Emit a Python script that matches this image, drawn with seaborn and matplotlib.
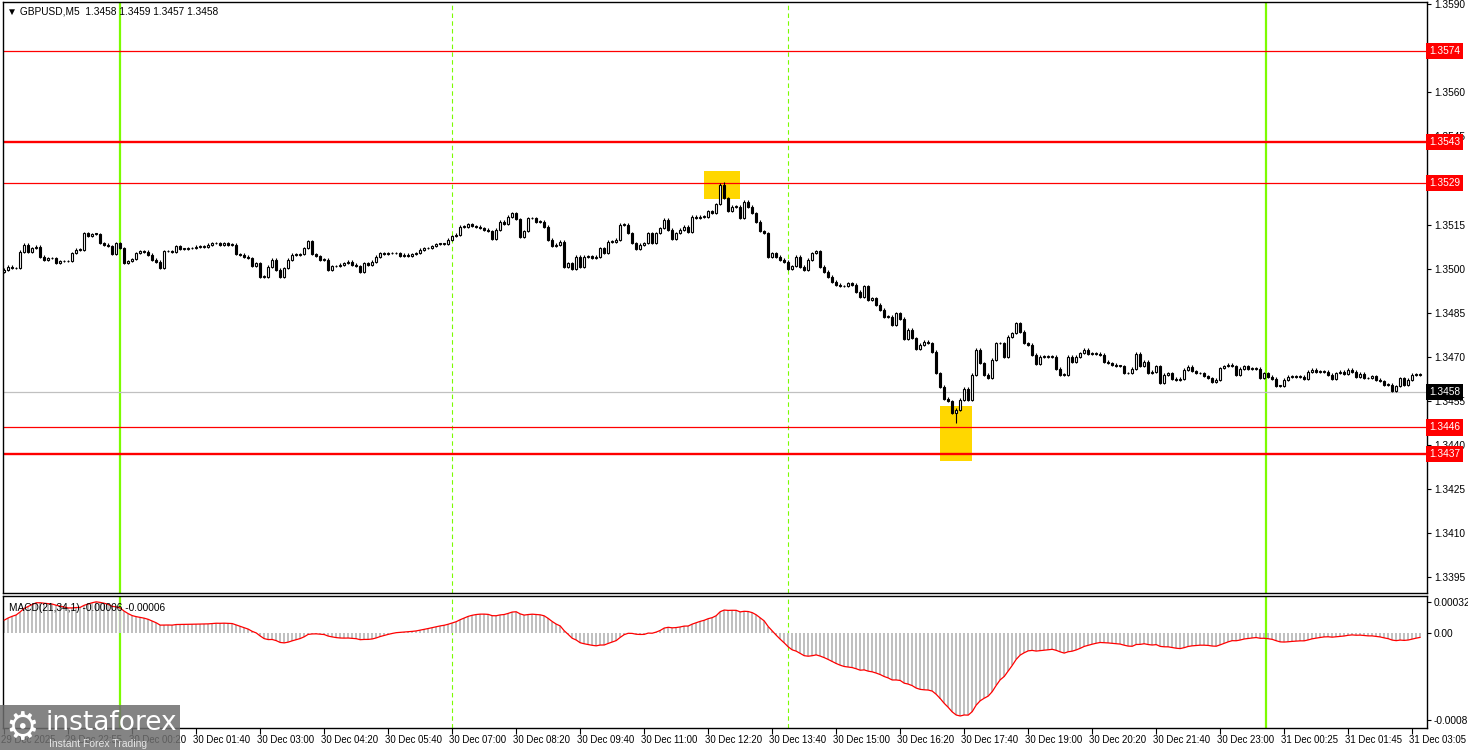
import numpy as np
import matplotlib
matplotlib.use("Agg")
import matplotlib.pyplot as plt
import matplotlib.transforms as mtransforms
import seaborn as sns

# closes of the 5-minute bars (left to right)
closes = [
    1.34997, 1.35007, 1.35003, 1.35003, 1.35058, 1.35082, 1.35058, 1.35071, 1.35075, 1.35041,
    1.35031, 1.35037, 1.35037, 1.35020, 1.35027, 1.35027, 1.35027, 1.35054, 1.35065, 1.35065,
    1.35122, 1.35112, 1.35119, 1.35119, 1.35088, 1.35082, 1.35078, 1.35051, 1.35088, 1.35071,
    1.35020, 1.35027, 1.35034, 1.35054, 1.35061, 1.35058, 1.35048, 1.35031, 1.35024, 1.35003,
    1.35061, 1.35061, 1.35058, 1.35078, 1.35068, 1.35068, 1.35071, 1.35071, 1.35075, 1.35075,
    1.35075, 1.35082, 1.35088, 1.35088, 1.35082, 1.35088, 1.35082, 1.35082, 1.35051, 1.35048,
    1.35041, 1.35037, 1.35010, 1.35020, 1.34973, 1.34973, 1.35007, 1.35031, 1.34997, 1.34973,
    1.35003, 1.35031, 1.35048, 1.35048, 1.35051, 1.35071, 1.35095, 1.35051, 1.35044, 1.35031,
    1.35031, 1.34997, 1.35010, 1.35010, 1.35014, 1.35020, 1.35024, 1.35014, 1.35010, 1.34990,
    1.35020, 1.35014, 1.35024, 1.35041, 1.35054, 1.35051, 1.35054, 1.35054, 1.35054, 1.35044,
    1.35048, 1.35044, 1.35051, 1.35054, 1.35065, 1.35071, 1.35071, 1.35078, 1.35085, 1.35085,
    1.35085, 1.35099, 1.35112, 1.35116, 1.35143, 1.35143, 1.35153, 1.35146, 1.35143, 1.35139,
    1.35133, 1.35129, 1.35102, 1.35133, 1.35160, 1.35153, 1.35177, 1.35190, 1.35170, 1.35109,
    1.35129, 1.35173, 1.35173, 1.35160, 1.35160, 1.35143, 1.35099, 1.35078, 1.35082, 1.35092,
    1.35007, 1.35020, 1.35000, 1.35041, 1.35007, 1.35041, 1.35044, 1.35037, 1.35041, 1.35071,
    1.35054, 1.35092, 1.35092, 1.35099, 1.35150, 1.35150, 1.35122, 1.35088, 1.35068, 1.35082,
    1.35088, 1.35122, 1.35088, 1.35122, 1.35139, 1.35167, 1.35133, 1.35102, 1.35122, 1.35133,
    1.35143, 1.35126, 1.35177, 1.35173, 1.35177, 1.35177, 1.35197, 1.35190, 1.35221, 1.35286,
    1.35241, 1.35197, 1.35211, 1.35211, 1.35173, 1.35228, 1.35211, 1.35190, 1.35160, 1.35129,
    1.35122, 1.35041, 1.35054, 1.35041, 1.35031, 1.35024, 1.35000, 1.35010, 1.35041, 1.35007,
    1.34997, 1.35031, 1.35054, 1.35061, 1.35007, 1.34990, 1.34973, 1.34956, 1.34946, 1.34942,
    1.34942, 1.34952, 1.34946, 1.34922, 1.34905, 1.34942, 1.34895, 1.34901, 1.34878, 1.34861,
    1.34837, 1.34837, 1.34810, 1.34850, 1.34830, 1.34762, 1.34793, 1.34765, 1.34728, 1.34742,
    1.34752, 1.34748, 1.34718, 1.34646, 1.34599, 1.34558, 1.34551, 1.34510, 1.34521, 1.34555,
    1.34592, 1.34555, 1.34640, 1.34725, 1.34680, 1.34640, 1.34629, 1.34691, 1.34748, 1.34748,
    1.34701, 1.34769, 1.34782, 1.34816, 1.34786, 1.34748, 1.34742, 1.34708, 1.34677, 1.34701,
    1.34701, 1.34701, 1.34701, 1.34660, 1.34640, 1.34640, 1.34701, 1.34684, 1.34701, 1.34714,
    1.34725, 1.34711, 1.34711, 1.34711, 1.34708, 1.34684, 1.34680, 1.34674, 1.34670, 1.34670,
    1.34646, 1.34646, 1.34660, 1.34711, 1.34670, 1.34684, 1.34646, 1.34650, 1.34670, 1.34612,
    1.34640, 1.34646, 1.34626, 1.34623, 1.34626, 1.34657, 1.34667, 1.34653, 1.34646, 1.34646,
    1.34636, 1.34629, 1.34616, 1.34623, 1.34663, 1.34670, 1.34674, 1.34670, 1.34640, 1.34660,
    1.34670, 1.34660, 1.34660, 1.34660, 1.34629, 1.34646, 1.34633, 1.34626, 1.34602, 1.34602,
    1.34623, 1.34633, 1.34636, 1.34633, 1.34633, 1.34626, 1.34650, 1.34657, 1.34650, 1.34650,
    1.34650, 1.34640, 1.34626, 1.34646, 1.34650, 1.34643, 1.34657, 1.34650, 1.34633, 1.34643,
    1.34629, 1.34629, 1.34636, 1.34623, 1.34619, 1.34606, 1.34606, 1.34585, 1.34602, 1.34629,
    1.34606, 1.34623, 1.34640, 1.34640, 1.34640,
]
first_open = 1.34990
wick_extremes = {179: ("high", 1.35293), 180: ("high", 1.35295), 238: ("low", 1.34476)}

# EMA state just before the first visible bar (MACD 21,34)
ema_fast_start = 1.34920
ema_slow_start = 1.34910

tick_bars = list(range(0, 353, 16))
tick_texts = ["29 Dec 2025", "29 Dec 22:55", "30 Dec 00:20", "30 Dec 01:40", "30 Dec 03:00",
              "30 Dec 04:20", "30 Dec 05:40", "30 Dec 07:00", "30 Dec 08:20", "30 Dec 09:40",
              "30 Dec 11:00", "30 Dec 12:20", "30 Dec 13:40", "30 Dec 15:00", "30 Dec 16:20",
              "30 Dec 17:40", "30 Dec 19:00", "30 Dec 20:20", "30 Dec 21:40", "30 Dec 23:00",
              "31 Dec 00:25", "31 Dec 01:45", "31 Dec 03:05"]

levels_thin = [1.3574, 1.3529, 1.3446]
levels_thick = [1.3543, 1.3437]
bid = 1.3458
day_lines = [29, 315.5]
session_lines = [112, 196]
boxes = [(174.9, 183.9, 1.35237, 1.35332), (233.9, 241.9, 1.34346, 1.34533)]
title = "\u25bc GBPUSD,M5  1.3458 1.3459 1.3457 1.3458"
macd_title = "MACD(21,34,1) -0.00006 -0.00006"
macd_scale_ticks = [0.000284, 0.0, -0.000788]
macd_scale_texts = ["0.00032", "0.00", "-0.0008"]

# ---------------------------------------------------------------
sns.set_style("white")
plt.rcParams["font.family"] = ["Liberation Sans", "DejaVu Sans"]

n = len(closes)
bars = np.arange(n)
c = np.array(closes)
o = np.r_[first_open, c[:-1]]
wick = 0.00004
hi = np.maximum(o, c) + wick
lo = np.minimum(o, c) - wick
for k, (side, v) in wick_extremes.items():
    if side == "high":
        hi[k] = v
    else:
        lo[k] = v

af, aslow = 2 / 22, 2 / 35
f, s = ema_fast_start, ema_slow_start
macd = []
for v in c:
    f += af * (v - f)
    s += aslow * (v - s)
    macd.append(f - s)
macd = np.array(macd)

W, H = 1468, 750
fig = plt.figure(figsize=(W / 100, H / 100), dpi=100)
ax = fig.add_axes([3 / W, 1 - 593 / H, 1424 / W, 591 / H])
ax2 = fig.add_axes([3 / W, 1 - 728 / H, 1424 / W, 132 / H])

xmin = -0.3
xmax = xmin + 1424 / 4
for a in (ax, ax2):
    a.set_xlim(xmin, xmax)
    for sp in a.spines.values():
        sp.set_color("black")
        sp.set_linewidth(1)
        sp.set_visible(True)
    for x in day_lines:
        a.axvline(x, color="#7CFC00", lw=1.6, zorder=1)
    for x in session_lines:
        a.axvline(x, color="#7CFC00", lw=0.8, ls=(0, (4, 3)), zorder=1)

ax.set_ylim(1.33897, 1.35907)

# highlight boxes
for x0, x1, y0, y1 in boxes:
    ax.fill_between([x0, x1], y0, y1, color="#FFD700", lw=0, zorder=2)

for y in levels_thin:
    ax.axhline(y, color="red", lw=0.9, zorder=2)
for y in levels_thick:
    ax.axhline(y, color="red", lw=1.7, zorder=2)
ax.axhline(bid, color="#c0c0c0", lw=0.9, zorder=2)

# candles
up = c >= o
ax.vlines(bars, lo, hi, color="black", lw=0.8, zorder=3)
body_h = np.maximum(np.abs(c - o), 0.000008)
ax.bar(bars[up], body_h[up], bottom=np.minimum(o, c)[up], width=0.62,
       color="white", edgecolor="black", linewidth=0.8, zorder=4)
ax.bar(bars[~up], body_h[~up], bottom=np.minimum(o, c)[~up], width=0.62,
       color="black", edgecolor="black", linewidth=0.8, zorder=4)

# right price scale (labels under the red boxes are hidden, as in the terminal)
ax.yaxis.tick_right()
yt = np.round(np.arange(1.3395, 1.35905, 0.0015), 4)
ax.set_yticks(yt)
ax.set_yticklabels(["" if v in (1.3575, 1.3530) else f"{v:.4f}" for v in yt])
ax.tick_params(axis="y", right=True, direction="out", length=3, width=0.8,
               labelsize=7.3, pad=2, colors="black")
ax.set_xticks([])

ytrans = mtransforms.blended_transform_factory(ax.transAxes, ax.transData)
for y in levels_thin + levels_thick:
    ax.text(1.0015, y, f"{y:.4f}", transform=ytrans, ha="left", va="center",
            fontsize=7.3, color="white", zorder=10, clip_on=False,
            bbox=dict(facecolor="red", edgecolor="none", pad=2.2))
ax.text(1.0015, bid, f"{bid:.4f}", transform=ytrans, ha="left", va="center",
        fontsize=7.3, color="white", zorder=10, clip_on=False,
        bbox=dict(facecolor="black", edgecolor="none", pad=2.2))

ax.text(0.0025, 0.993, title, transform=ax.transAxes,
        ha="left", va="top", fontsize=7.3, color="black")

# MACD panel
ax2.bar(bars, macd, width=0.5, color="#c0c0c0", linewidth=0, zorder=2)
sns.lineplot(x=bars, y=macd, ax=ax2, color="red", lw=0.9, zorder=3)
ax2.set_ylim(-0.00086, 0.00034)
ax2.yaxis.tick_right()
ax2.set_yticks(macd_scale_ticks)
ax2.set_yticklabels(macd_scale_texts)
ax2.tick_params(axis="y", right=True, direction="out", length=3, width=0.8,
                labelsize=7.3, pad=2, colors="black")
ax2.set_ylabel("")
ax2.text(0.004, 0.95, macd_title, transform=ax2.transAxes,
         ha="left", va="top", fontsize=7.3, color="black")

ax2.set_xticks(tick_bars)
ax2.set_xticklabels(tick_texts)
ax2.tick_params(axis="x", bottom=True, direction="out", length=4, width=0.8,
                labelsize=6.9, pad=1, colors="black")
shift = mtransforms.ScaledTranslation(-3 / 100, 0, fig.dpi_scale_trans)
for lab in ax2.get_xticklabels():
    lab.set_ha("left")
    lab.set_transform(lab.get_transform() + shift)

# watermark
fig.patches.append(plt.Rectangle((0, 0), 180 / W, 45 / H, transform=fig.transFigure,
                                 facecolor="#6e6e6e", alpha=0.85, edgecolor="none", zorder=20))
fig.text(5 / W, 21 / H, "\u2699", fontsize=27, color="white", family="DejaVu Sans",
         va="center", ha="left", zorder=21)
fig.text(46 / W, 27 / H, "instaforex", fontsize=19, color="white", family="DejaVu Sans",
         va="center", ha="left", zorder=21)
fig.text(49 / W, 6 / H, "Instant Forex Trading", fontsize=7.5, color="#e6e6e6",
         va="center", ha="left", zorder=21)

fig.savefig("out.png", dpi=100)
